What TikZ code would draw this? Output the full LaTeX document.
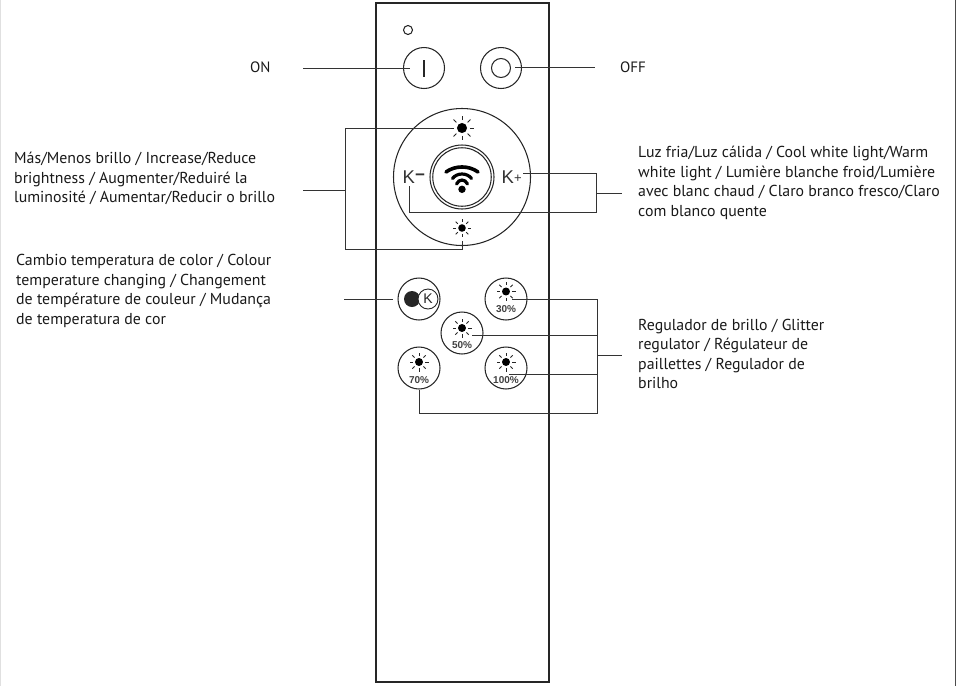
\documentclass[tikz,border=0pt]{standalone}
\usepackage{fontspec}
\setmainfont{PT Sans}
\newfontfamily\arialish{Liberation Sans}
\tikzset{
  x=1pt,y=-1pt,
  wire/.style={draw=black!80,line width=0.95pt},
  part/.style={draw=black!85,line width=1.05pt},
  lbl/.style={inner sep=0pt,align=left,anchor=west,font=\fontsize{15.85}{19.5}\selectfont,text=black!90},
  pct/.style={inner sep=0pt,font=\arialish\bfseries\fontsize{10}{10}\selectfont,text=black!75},
  kk/.style={inner sep=0pt,anchor=west,text=black!80,font=\arialish\fontsize{18.5}{20}\selectfont},
  btn/.style={circle,part,minimum size=42pt,inner sep=0pt},
  wifi/.style={draw=black,line cap=round},
}
\newcommand{\sunicon}[3]{%
  \fill[black] (#1,#2) circle[radius=#3*0.42];
  \foreach \a in {0,45,...,315}
    \draw[black!85,line width=0.9pt] ([shift={(\a:#3*0.66)}]#1,#2) -- ([shift={(\a:#3)}]#1,#2);
}
\begin{document}
\begin{tikzpicture}
\useasboundingbox (0,0) rectangle (965,686);
\draw[black!12,line width=0.8pt] (0.4,0) -- (0.4,686);
\draw[black!70,line width=0.8pt] (955,0) -- (955,686);
% body
\node[part,minimum width=173pt,minimum height=679pt,inner sep=0pt] (body) at (462.5,342.5) {};
\node[circle,part,minimum size=9pt,inner sep=0pt] (led) at (408,30) {};
% ON OFF
\node[btn,minimum size=41pt] (on) at (424,68) {};
\draw[part] (424,60) -- (424,77);
\node[btn,minimum size=41pt] (off) at (501,68) {};
\node[circle,part,minimum size=19pt,inner sep=0pt] (offin) at (501,68) {};
% wheel
\node[circle,part,minimum size=137pt,inner sep=0pt] (wheel) at (462,177) {};
\node[circle,part,minimum size=64pt,inner sep=0pt] (ok) at (462,177) {};
\node[circle,part,minimum size=58.5pt,inner sep=0pt] (okin) at (462,177) {};
\fill[black] (462,189.3) circle[radius=3.7];
\draw[wifi,line width=3.6pt] (446,172) .. controls (455,165.3) and (469,165.3) .. (478,172);
\draw[wifi,line width=3.2pt] (452.5,178.5) .. controls (457,172.5) and (467,172.5) .. (471.5,178.5);
\draw[wifi,line width=3.2pt] (456.5,184) .. controls (459,178.7) and (465,178.7) .. (467.5,184);
\sunicon{462}{128}{12}
\sunicon{462}{228}{9}
\node[kk] (kminus) at (402.5,177) {K\raisebox{2.5pt}{\fontsize{17}{17}\selectfont\bfseries −}};
\node[kk] (kplus) at (501.5,177) {K\raisebox{1pt}{\fontsize{13}{13}\selectfont +}};
% lower buttons
\node[btn] (ktemp) at (419,299) {};
\fill[black!85] (412,299) circle[radius=8];
\node[circle,draw=black!85,fill=white,line width=0.9pt,minimum size=20pt,inner sep=0pt,font=\arialish\fontsize{14}{14}\selectfont,text=black!85] (kbadge) at (428,299) {K};
\node[btn] (b30) at (506,299) {};
\sunicon{506}{291.5}{9.5}
\node[pct] (t30) at (506,309.5) {30\%};
\node[btn] (b50) at (462,333) {};
\sunicon{462}{328}{9.5}
\node[pct] (t50) at (462,345.5) {50\%};
\node[btn] (b70) at (419,368) {};
\sunicon{419}{362}{9.5}
\node[pct] (t70) at (419,380) {70\%};
\node[btn] (b100) at (506,368) {};
\sunicon{506}{362}{9.5}
\node[pct] (t100) at (506,380) {100\%};
% labels
\node[inner sep=0pt,anchor=west,font=\fontsize{15}{15}\selectfont,text=black!90] (lon) at (250,67) {ON};
\node[inner sep=0pt,anchor=west,font=\fontsize{15}{15}\selectfont,text=black!90] (loff) at (620,67) {OFF};
\node[lbl] (lmas) at (14,178.5) {Más/Menos brillo / Increase/Reduce\\brightness / Augmenter/Reduiré la\\luminosité / Aumentar/Reducir o brillo};
\node[lbl] (lcambio) at (16,291) {Cambio temperatura de color / Colour\\temperature changing / Changement\\de température de couleur / Mudança\\de temperatura de cor};
\node[lbl] (lluz) at (638,183) {Luz fria/Luz cálida / Cool white light/Warm\\white light / Lumière blanche froid/Lumière\\avec blanc chaud / Claro branco fresco/Claro\\com blanco quente};
\node[lbl] (lreg) at (638,354) {Regulador de brillo / Glitter\\regulator / Régulateur de\\paillettes / Regulador de\\brilho};
% free ends
\coordinate (onend) at (410,68);
\coordinate (onstart) at (303,68);
\coordinate (offend) at (515,67);
\coordinate (offstart) at (595,67);
\coordinate (sunup) at (451,128);
\coordinate (brL1) at (345,128);
\coordinate (brL2) at (345,249);
\coordinate (brL3) at (462,249);
\coordinate (sundn) at (462,241);
\coordinate (brLm) at (345,190);
\coordinate (brLt) at (303,190);
\coordinate (kpend) at (523,173);
\coordinate (brR1) at (596.5,173);
\coordinate (brR2) at (596.5,212);
\coordinate (brR3) at (409,212);
\coordinate (kmend) at (409,186);
\coordinate (brRm) at (596.5,193);
\coordinate (brRt) at (622,193);
\coordinate (ktl) at (344,299);
\coordinate (kte) at (393,299);
\coordinate (e30) at (512,299);
\coordinate (e50) at (472,335);
\coordinate (e100) at (509,374);
\coordinate (e70) at (419,390);
\coordinate (rg1) at (597,299);
\coordinate (rg5) at (597,335);
\coordinate (rg10) at (597,374);
\coordinate (rgb) at (597,413);
\coordinate (rg7) at (419,413);
\coordinate (rgm) at (597,355);
\coordinate (rgt) at (622,355);
% connectors
\draw[wire] (onstart) -- (onend);
\draw[wire] (offend) -- (offstart);
\draw[wire] (sunup) -- (brL1) -- (brL2) -- (brL3) -- (sundn);
\draw[wire] (brLm) -- (brLt);
\draw[wire] (kpend) -- (brR1) -- (brR2) -- (brR3) -- (kmend);
\draw[wire] (brRm) -- (brRt);
\draw[wire] (ktl) -- (kte);
\draw[wire] (e30) -- (rg1) -- (rgb) -- (rg7) -- (e70);
\draw[wire] (e50) -- (rg5);
\draw[wire] (e100) -- (rg10);
\draw[wire] (rgm) -- (rgt);
\end{tikzpicture}
\end{document}
